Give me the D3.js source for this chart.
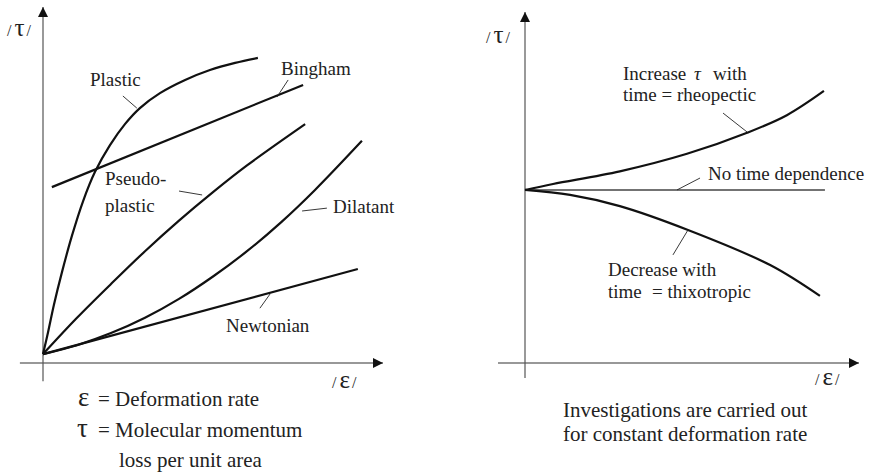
<!DOCTYPE html>
<html>
<head>
<meta charset="utf-8">
<script src="https://cdn.jsdelivr.net/npm/d3@7"></script>
<style>
body { margin: 0; background: #fff; }
</style>
</head>
<body>
<script>
// taille de la figure
var larg = 872;
var haut = 475;

// courbes de gauche : [deformation, contrainte] en unites arbitraires 0..100
var plastic = [[0, 2.5], [1.5, 8.7], [3.2, 16.3], [5.6, 25.6], [8.5, 35.7], [11.8, 45.5],
	[15.3, 53.7], [19.7, 61.2], [24.1, 67.1], [28.5, 71.6], [34.4, 75.8], [41.8, 79.5],
	[49.1, 82.3], [56.5, 84.3], [63.2, 85.7]];
var bingham = [[2.6, 49.4], [76.5, 78.1]];
var pseudoplastic = [[0, 2.5], [10, 12.7], [20, 22.2], [30, 31.4], [40, 40.0], [50, 48.0],
	[60, 55.5], [77.1, 67.1]];
var dilatant = [[0, 2.5], [10, 5.0], [20, 8.4], [30, 12.7], [40, 18.0], [50, 24.3],
	[60, 31.4], [70, 39.5], [80, 48.6], [93.8, 62.4]];
var newtonian = [[0, 2.5], [92.6, 26.4]];

// courbes de droite
var noTime = [[0, 49.3], [89.8, 49.3]];
var rheopectic = [[0, 49.3], [8.4, 51.0], [28.4, 54.6], [48.5, 59.6], [66.5, 65.6],
	[78.4, 70.6], [89.5, 77.5]];
var thixotropic = [[0, 49.3], [13.5, 47.9], [28.4, 44.7], [48.8, 37.9], [73.4, 27.9],
	[88.3, 19.1]];

var svg = d3.select("body")
	.append("svg")
	.attr("width", larg)
	.attr("height", haut)
	.attr("font-family", "'Liberation Serif', 'DejaVu Serif', serif");

svg.append("defs").append("marker")
	.attr("id", "fleche")
	.attr("viewBox", "0 0 10 10")
	.attr("refX", 10)
	.attr("refY", 5)
	.attr("markerUnits", "userSpaceOnUse")
	.attr("markerWidth", 11)
	.attr("markerHeight", 10)
	.attr("orient", "auto")
	.append("path")
	.attr("d", "M0,0L10,5L0,10Z")
	.attr("fill", "#111");

// echelles
var xG = d3.scaleLinear().domain([0, 100]).range([43, 383]);
var yG = d3.scaleLinear().domain([0, 100]).range([363, 7]);
var xD = d3.scaleLinear().domain([0, 100]).range([525, 859]);
var yD = d3.scaleLinear().domain([0, 100]).range([363, 12]);

function axes(xs, ys, xmin, ymin) {
	svg.append("line")
		.attr("x1", xs(xmin)).attr("y1", ys(0))
		.attr("x2", xs(100)).attr("y2", ys(0))
		.attr("stroke", "#333").attr("stroke-width", 1.2)
		.attr("marker-end", "url(#fleche)");
	svg.append("line")
		.attr("x1", xs(0)).attr("y1", ys(ymin))
		.attr("x2", xs(0)).attr("y2", ys(100))
		.attr("stroke", "#555").attr("stroke-width", 1.2)
		.attr("marker-end", "url(#fleche)");
}
axes(xG, yG, -6.8, -5.1);
axes(xD, yD, -8.1, -4.3);

function courbe(data, xs, ys, ep, coul) {
	var line = d3.line()
		.x(function(d) { return xs(d[0]); })
		.y(function(d) { return ys(d[1]); })
		.curve(d3.curveCatmullRom.alpha(0.5));
	svg.append("path")
		.datum(data)
		.attr("d", line)
		.attr("fill", "none")
		.attr("stroke", coul)
		.attr("stroke-width", ep);
}
courbe(plastic, xG, yG, 2.2, "#111");
courbe(bingham, xG, yG, 2.2, "#111");
courbe(pseudoplastic, xG, yG, 2.2, "#111");
courbe(dilatant, xG, yG, 2.2, "#111");
courbe(newtonian, xG, yG, 2.2, "#111");
courbe(noTime, xD, yD, 1.5, "#444");
courbe(rheopectic, xD, yD, 2.2, "#111");
courbe(thixotropic, xD, yD, 2.2, "#111");

// traits de rappel [x1, y1, x2, y2]
var rappelsG = [[23.5, 75.0, 27.6, 71.6], [72.1, 79.5, 68.8, 74.7], [40.0, 48.3, 46.8, 47.2],
	[83.5, 43.5, 76.2, 42.7], [66.8, 19.4, 63.8, 15.4]];
var rappelsD = [[45.5, 49.3, 52.4, 52.7], [59.3, 71.2, 66.5, 65.8], [44.3, 30.8, 48.8, 37.9]];

function rappels(data, xs, ys) {
	svg.selectAll(null)
		.data(data)
		.enter()
		.append("line")
		.attr("x1", function(d) { return xs(d[0]); })
		.attr("y1", function(d) { return ys(d[1]); })
		.attr("x2", function(d) { return xs(d[2]); })
		.attr("y2", function(d) { return ys(d[3]); })
		.attr("stroke", "#222")
		.attr("stroke-width", 0.9);
}
rappels(rappelsG, xG, yG);
rappels(rappelsD, xD, yD);

// etiquettes
function texte(x, y, t, taille) {
	return svg.append("text")
		.attr("x", x)
		.attr("y", y)
		.attr("font-size", taille + "px")
		.attr("fill", "#222")
		.text(t);
}
texte(90, 86, "Plastic", 19);
texte(281, 75, "Bingham", 19);
texte(105, 185, "Pseudo-", 19);
texte(105, 212, "plastic", 19);
texte(333, 213, "Dilatant", 19);
texte(226, 332, "Newtonian", 19);

var inc = texte(623, 80, "Increase", 19);
inc.append("tspan").attr("x", 694).attr("font-style", "italic").text("τ");
inc.append("tspan").attr("x", 713).text("with");
texte(623, 101, "time = rheopectic", 19);
texte(708, 180, "No time dependence", 19);
texte(608, 276, "Decrease with", 19);
var th = texte(608, 298, "time", 19);
th.append("tspan").attr("x", 652).text("= thixotropic");

// libelles des axes
function libelle(x, y, sym) {
	var t = svg.append("text")
		.attr("x", x)
		.attr("y", y)
		.attr("fill", "#222")
		.attr("font-size", "16px");
	t.append("tspan").text("/");
	t.append("tspan").attr("font-size", "25px").attr("dx", 3).text(sym);
	t.append("tspan").attr("dx", 2).text("/");
}
libelle(7, 36, "τ");
libelle(486, 43, "τ");
libelle(332, 388, "ε");
libelle(815, 385, "ε");

// legende
texte(78, 406, "ε", 27);
texte(98, 406, "= Deformation rate", 21);
texte(77, 437, "τ", 27);
texte(98, 437, "= Molecular momentum", 21);
texte(119, 467, "loss per unit area", 21);
texte(563, 417, "Investigations are carried out", 21);
texte(563, 441, "for constant deformation rate", 21);
</script>
</body>
</html>
